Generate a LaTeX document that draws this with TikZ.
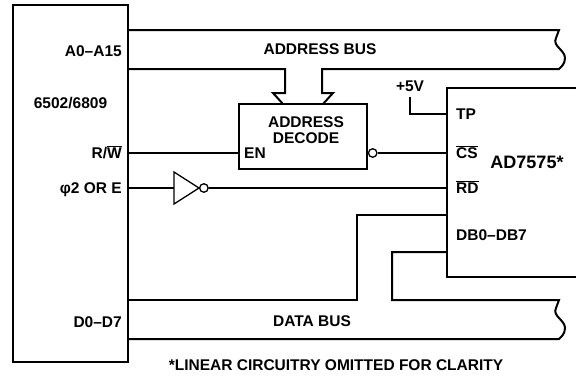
\documentclass[tikz,border=0pt]{standalone}
\usepackage{fontspec}
\setmainfont{Liberation Sans}
\usetikzlibrary{positioning}
\newcommand\pinfont{\fontsize{15.5bp}{16bp}\selectfont\bfseries}
\tikzset{
  chip/.style={draw, line width=1.6bp, inner sep=0pt},
  bus/.style={line width=2bp},
  sig/.style={line width=1.3bp},
  pin/.style={font=\pinfont, inner sep=0pt, text height=11bp, text depth=0pt},
  title/.style={font=\pinfont, inner sep=0pt, align=center},
  bubble/.style={draw, circle, line width=1.3bp, minimum size=8.5bp, inner sep=0pt},
  busend/.style={insert path={-- ++(-3,8) .. controls +(-4,8) and +(0,-8) .. ++(9,20)
      .. controls +(0,6) and +(2,-2) .. ++(-6,11)}},
}

\begin{document}
\begin{tikzpicture}[x=1bp,y=-1bp]
      \useasboundingbox (0,0) rectangle (576,376);
      \node[chip, minimum width=115bp, minimum height=357bp] (cpu) at (70.5,183.5) {};
      \node[chip, minimum width=128bp, minimum height=65bp] (dec) at (303,136.5) {};
      \draw[line width=1.6bp] (576,88) -- (447,88) -- (447,277) -- (576,277);
      \coordinate (tp) at (447,114);
      \coordinate (cs) at (447,153);
      \coordinate (rd) at (447,188);
      \coordinate (db1) at (447,215);
      \coordinate (db2) at (447,252);
      \coordinate (invin) at (174,188);

      % processor pins
      \node[pin, anchor=east] (abus) at (122,51) {A0–A15};
      \node[pin] (cpuname) at (70.5,103) {6502/6809};
      \node[pin, anchor=east] (rw) at (122,153) {R/$\overline{\hbox{W}}$};
      \node[pin, anchor=east] (phi) at (122,188) {φ2 OR E};
      \node[pin, anchor=east] (dbus) at (122,322) {D0–D7};

      % converter pins
      \node[pin, anchor=west] (tpl) at (456,114) {TP};
      \node[pin, anchor=west] (csl) at (456,153) {$\overline{\hbox{CS}}$};
      \node[pin, anchor=west] (rdl) at (456,188) {$\overline{\hbox{RD}}$};
      \node[pin, anchor=west] (dbl) at (456,235) {DB0–DB7};
      \node[pin, font=\fontsize{18bp}{20bp}\selectfont\bfseries] (dacname) at (527,163) {AD7575*};
      \node[pin] (vcc) at (410,86) {+5V};

      \node[title] (dectxt) at (306,130) {ADDRESS\\DECODE};
      \node[pin, anchor=west] (en) at (244,153) {EN};
      \node[pin] (abuslbl) at (320,49) {ADDRESS BUS};
      \node[pin] (dbuslbl) at (312,321) {DATA BUS};
      \node[pin] (note) at (336,365) {*LINEAR CIRCUITRY OMITTED FOR CLARITY};

      % buses
      \draw[bus] (cpu.east |- 0,30) -- (559,30) [busend] -- (322,69) -- (322,93) -- (333,93) -- (323,104);
      \draw[bus] (283,104) -- (273,93) -- (285,93) -- (285,69) -- (cpu.east |- 0,69);
      \draw[bus] (cpu.east |- 0,300) -- (357,300) -- (357,215) -- (db1);
      \draw[bus] (db2) -- (392,252) -- (392,300) -- (559,300) [busend] -- (cpu.east |- 0,339);

      % control lines
      \draw[sig] (cpu.east |- rw) -- (dec.west |- rw);
      \node[bubble, anchor=west] (decout) at (dec.east |- rw) {};
      \draw[sig] (decout.east) -- (cs);
      \draw[sig] (invin) ++(0,-16) -- ++(25,16) -- ++(-25,16) -- cycle;
      \node[bubble, anchor=west] (invout) at (199,188) {};
      \draw[sig] (cpu.east |- phi) -- (invin);
      \draw[sig] (invout.east) -- (rd);
      \draw[sig] ([yshift=-5bp]vcc.south) |- (tp);
\end{tikzpicture}
\end{document}
